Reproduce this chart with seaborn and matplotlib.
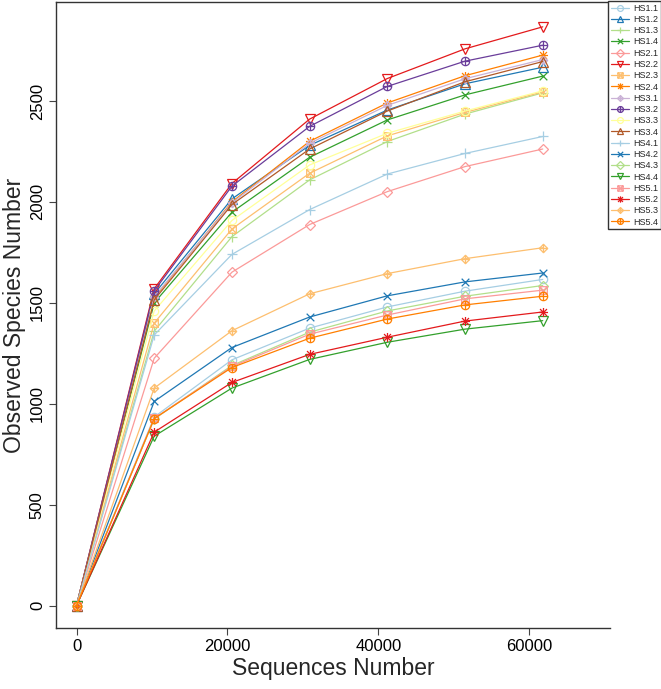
import numpy as np
import pandas as pd
import seaborn as sns
import matplotlib
matplotlib.use("Agg")
import matplotlib.pyplot as plt
from matplotlib.path import Path

# ---------------- data ----------------
seq_depth = [1, 10300, 20600, 30900, 41200, 51500, 61800]

samples = ["HS1.1", "HS1.2", "HS1.3", "HS1.4", "HS2.1", "HS2.2", "HS2.3", "HS2.4",
           "HS3.1", "HS3.2", "HS3.3", "HS3.4", "HS4.1", "HS4.2", "HS4.3", "HS4.4",
           "HS5.1", "HS5.2", "HS5.3", "HS5.4"]

HS1_1 = [1, 935, 1218, 1375, 1480, 1558, 1616]
HS1_2 = [1, 1545, 2015, 2280, 2455, 2585, 2667]
HS1_3 = [1, 1360, 1828, 2109, 2299, 2435, 2540]
HS1_4 = [1, 1500, 1949, 2221, 2406, 2530, 2623]
HS2_1 = [1, 1226, 1652, 1888, 2051, 2175, 2262]
HS2_2 = [1, 1570, 2091, 2410, 2611, 2758, 2867]
HS2_3 = [1, 1400, 1866, 2142, 2327, 2443, 2545]
HS2_4 = [1, 1525, 2000, 2300, 2490, 2625, 2727]
HS3_1 = [1, 1530, 1995, 2290, 2478, 2610, 2705]
HS3_2 = [1, 1560, 2078, 2374, 2572, 2697, 2776]
HS3_3 = [1, 1460, 1908, 2183, 2340, 2450, 2550]
HS3_4 = [1, 1515, 1987, 2262, 2450, 2595, 2695]
HS4_1 = [1, 1341, 1740, 1962, 2138, 2240, 2324]
HS4_2 = [1, 1012, 1279, 1430, 1535, 1604, 1648]
HS4_3 = [1, 925, 1190, 1355, 1460, 1533, 1586]
HS4_4 = [1, 840, 1078, 1220, 1305, 1370, 1412]
HS5_1 = [1, 928, 1185, 1345, 1440, 1520, 1563]
HS5_2 = [1, 860, 1106, 1245, 1330, 1410, 1455]
HS5_3 = [1, 1078, 1362, 1545, 1645, 1719, 1773]
HS5_4 = [1, 927, 1180, 1325, 1420, 1490, 1533]

series = [HS1_1, HS1_2, HS1_3, HS1_4, HS2_1, HS2_2, HS2_3, HS2_4, HS3_1, HS3_2,
          HS3_3, HS3_4, HS4_1, HS4_2, HS4_3, HS4_4, HS5_1, HS5_2, HS5_3, HS5_4]

x_ticks = [0, 20000, 40000, 60000]
y_ticks = [0, 500, 1000, 1500, 2000, 2500]

# ---------------- styles ----------------
paired = ["#A6CEE3", "#1F78B4", "#B2DF8A", "#33A02C", "#FB9A99", "#E31A1C",
          "#FDBF6F", "#FF7F00", "#CAB2D6", "#6A3D9A", "#FFFF99", "#B15928"]
colors = [paired[i % 12] for i in range(len(samples))]

def compound(*paths):
    return Path.make_compound_path(*paths)

plus = Path([(-1, 0), (1, 0), (0, -1), (0, 1)],
            [Path.MOVETO, Path.LINETO, Path.MOVETO, Path.LINETO])
xcross = Path([(-1, -1), (1, 1), (-1, 1), (1, -1)],
              [Path.MOVETO, Path.LINETO, Path.MOVETO, Path.LINETO])
square = Path([(-1, -1), (1, -1), (1, 1), (-1, 1), (-1, -1)],
              [Path.MOVETO, Path.LINETO, Path.LINETO, Path.LINETO, Path.CLOSEPOLY])
diamond = Path([(0, -1.3), (1.3, 0), (0, 1.3), (-1.3, 0), (0, -1.3)],
               [Path.MOVETO, Path.LINETO, Path.LINETO, Path.LINETO, Path.CLOSEPOLY])
plus13 = Path([(-1.3, 0), (1.3, 0), (0, -1.3), (0, 1.3)],
              [Path.MOVETO, Path.LINETO, Path.MOVETO, Path.LINETO])
circle = Path.unit_circle()

m_square_x = compound(square, xcross)
m_circle_plus = compound(circle, plus)
m_diamond_plus = compound(diamond, plus13)
m_asterisk = compound(plus13, xcross)

pch = ["o", "^", plus, xcross, "D", "v", m_square_x, m_asterisk, m_diamond_plus, m_circle_plus]
msize = [6, 6.5, 7, 5.5, 5.5, 6.5, 5.5, 6.5, 6, 6]
markers = [pch[i % 10] for i in range(len(samples))]
msizes = [msize[i % 10] for i in range(len(samples))]

# ---------------- figure ----------------
sns.set_theme(style="white")
plt.rcParams["font.family"] = ["Liberation Sans", "DejaVu Sans"]

W, H = 661, 689
fig = plt.figure(figsize=(W / 100, H / 100), dpi=100)
ax = fig.add_axes([56 / W, 1 - 628 / H, (610 - 56) / W, (628 - 2) / H])

for name, vals, c, m, ms in zip(samples, series, colors, markers, msizes):
    df = pd.DataFrame({"x": seq_depth, "y": vals})
    sns.lineplot(data=df, x="x", y="y", ax=ax, color=c, marker=m, markersize=ms,
                 markerfacecolor="none", markeredgecolor=c, markeredgewidth=0.9,
                 linewidth=0.9, label=name, legend=False)

ax.set_xlim(-2720, 70720)
ax.set_ylim(-110, 2990)
ax.set_xticks(x_ticks)
ax.set_xticklabels([str(v) for v in x_ticks])
ax.set_yticks(y_ticks)
ax.set_yticklabels([str(v) for v in y_ticks], rotation=90, va="center")

ax.tick_params(axis="both", which="major", direction="out", length=5, width=0.8,
               color="#444444", labelsize=12, labelcolor="black", pad=3,
               bottom=True, left=True)
for side in ["left", "bottom", "top"]:
    ax.spines[side].set_visible(True)
    ax.spines[side].set_color("#333333")
    ax.spines[side].set_linewidth(1.0)
ax.spines["right"].set_visible(False)

ax.set_xlabel("Sequences Number", fontsize=16.5, labelpad=2)
ax.set_ylabel("Observed Species Number", fontsize=16.5, labelpad=3)

handles, labels = ax.get_legend_handles_labels()
leg = fig.legend(handles, labels, loc="upper left",
                 bbox_to_anchor=(608 / W, 1 - 1 / H), bbox_transform=fig.transFigure,
                 fontsize=6.5, frameon=True, fancybox=False, framealpha=1,
                 edgecolor="#333333", borderpad=0.3, labelspacing=0.25,
                 handlelength=2.0, handletextpad=0.5, borderaxespad=0,
                 markerscale=0.7)
leg.get_frame().set_linewidth(1.0)

fig.savefig("out.png", dpi=100)
